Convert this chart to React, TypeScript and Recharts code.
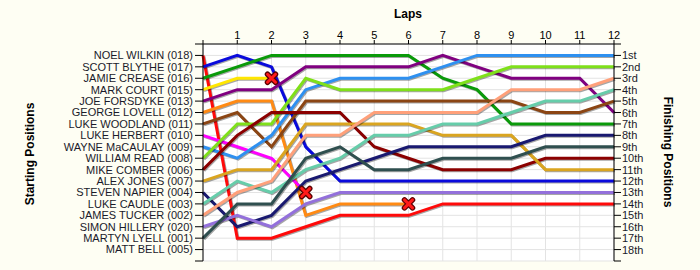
import { LineChart, Line, XAxis, YAxis, CartesianGrid } from "recharts";

const laps = [0, 1, 2, 3, 4, 5, 6, 7, 8, 9, 10, 11, 12];

const startLabels = [
  "NOEL WILKIN (018)",
  "SCOTT BLYTHE (017)",
  "JAMIE CREASE (016)",
  "MARK COURT (015)",
  "JOE FORSDYKE (013)",
  "GEORGE LOVELL (012)",
  "LUKE WOODLAND (011)",
  "LUKE HERBERT (010)",
  "WAYNE MaCAULAY (009)",
  "WILLIAM READ (008)",
  "MIKE COMBER (006)",
  "ALEX JONES (007)",
  "STEVEN NAPIER (004)",
  "LUKE CAUDLE (003)",
  "JAMES TUCKER (002)",
  "SIMON HILLERY (020)",
  "MARTYN LYELL (001)",
  "MATT BELL (005)",
];

const finishLabels = [
  "1st", "2nd", "3rd", "4th", "5th", "6th", "7th", "8th", "9th",
  "10th", "11th", "12th", "13th", "14th", "15th", "16th", "17th", "18th",
];

// position at each lap (lap 0 = grid); a short list means the driver retired
const noelWilkin = [1, 17, 17, 16, 15, 15, 15, 14, 14, 14, 14, 14, 14];
const scottBlythe = [2, 1, 2, 9, 12, 12, 12, 12, 12, 12, 12, 12, 12];
const jamieCrease = [3, 2, 1, 1, 1, 1, 1, 3, 4, 7, 7, 7, 7];
const markCourt = [4, 3, 3];
const joeForsdyke = [5, 4, 4, 2, 2, 2, 2, 1, 2, 3, 3, 3, 6];
const georgeLovell = [6, 5, 5, 15, 14, 14, 14];
const lukeWoodland = [7, 6, 9, 5, 5, 5, 5, 5, 5, 5, 6, 6, 5];
const lukeHerbert = [8, 9, 10, 13];
const wayneMacaulay = [9, 10, 8, 4, 3, 3, 3, 2, 1, 1, 1, 1, 1];
const williamRead = [10, 7, 7, 3, 4, 4, 4, 4, 3, 2, 2, 2, 2];
const mikeComber = [11, 8, 6, 6, 6, 9, 10, 11, 11, 11, 10, 10, 10];
const alexJones = [12, 11, 11, 7, 7, 7, 7, 8, 8, 8, 11, 11, 11];
const stevenNapier = [13, 16, 15, 12, 11, 10, 9, 9, 9, 9, 8, 8, 8];
const lukeCaudle = [14, 12, 13, 11, 10, 8, 8, 7, 7, 6, 5, 5, 4];
const jamesTucker = [15, 13, 12, 8, 8, 6, 6, 6, 6, 4, 4, 4, 3];
const simonHillery = [16, 15, 16, 14, 13, 13, 13, 13, 13, 13, 13, 13, 13];
const martynLyell = [17, 14, 14, 10, 9, 11, 11, 10, 10, 10, 9, 9, 9];

const series = [
  noelWilkin, scottBlythe, jamieCrease, markCourt, joeForsdyke, georgeLovell,
  lukeWoodland, lukeHerbert, wayneMacaulay, williamRead, mikeComber, alexJones,
  stevenNapier, lukeCaudle, jamesTucker, simonHillery, martynLyell,
];

const colors = [
  "#FF0A0A", "#0A0ADC", "#0A9A0A", "#FFE600", "#800080", "#FF8A14",
  "#8B4513", "#FF00FF", "#2E90F0", "#7FE01A", "#8B0000", "#DAA520",
  "#191970", "#66CDAA", "#FFA07A", "#9370DB", "#2F4F4F",
];

const data = laps.map((lap, i) => {
  const row: Record<string, number | null> = { lap };
  series.forEach((s, k) => {
    row["d" + k] = i < s.length ? s[i] : null;
  });
  return row;
});

const font = "'Liberation Sans', Arial, sans-serif";
const yTicks = Array.from({ length: 20 }, (_, i) => i);

function RetireDot(props: any, len: number) {
  const { cx, cy, index } = props;
  if (len === laps.length || index !== len - 1 || cx == null) {
    return <g key={"n" + index} />;
  }
  const r = 4;
  const d = `M${cx - r},${cy - r}L${cx + r},${cy + r}M${cx + r},${cy - r}L${cx - r},${cy + r}`;
  return (
    <g key={"x" + index}>
      <path d={d} stroke="#5a0000" strokeWidth={5.5} strokeLinecap="round" />
      <path d={d} stroke="#FF1A1A" strokeWidth={3} strokeLinecap="round" />
    </g>
  );
}

function RightTick(props: any) {
  const { x, y, payload } = props;
  const v = payload.value;
  if (v < 1 || v > 18) return <g />;
  return (
    <text x={x} y={y} dy={4} textAnchor="start" fontSize={11} fontFamily={font} fill="#1a1a2a">
      {finishLabels[v - 1]}
    </text>
  );
}

export default function App() {
  return (
    <div style={{ width: 700, height: 270, background: "#FEFEF3", position: "relative" }}>
      <style>{`body{margin:0} .lap-line .recharts-line-curve{filter:drop-shadow(1px 1.5px 0.4px rgba(0,0,0,0.35));}`}</style>
      <LineChart width={700} height={270} data={data} margin={{ top: 0, right: 0, left: 0, bottom: 9 }}>
        <CartesianGrid stroke="#E3E3E3" fill="#FFFFFF" yAxisId="l" />
        <XAxis
          dataKey="lap"
          type="number"
          orientation="top"
          domain={[0, 12]}
          ticks={laps}
          interval={0}
          height={44}
          stroke="#000"
          tickSize={4}
          tickMargin={1}
          tickFormatter={(v) => (v === 0 ? "" : String(v))}
          tick={{ fontSize: 11, fill: "#000", fontFamily: font }}
        />
        <YAxis
          yAxisId="l"
          type="number"
          domain={[0, 19]}
          reversed
          ticks={yTicks}
          interval={0}
          width={203}
          stroke="#000"
          tickSize={8}
          tickMargin={2}
          tickFormatter={(v) => (v >= 1 && v <= 18 ? startLabels[v - 1] : "")}
          tick={{ fontSize: 11, fill: "#1a1a2a", fontFamily: font }}
        />
        <YAxis
          yAxisId="r"
          orientation="right"
          type="number"
          domain={[0, 19]}
          reversed
          ticks={yTicks}
          interval={0}
          width={86}
          stroke="#000"
          tickSize={7}
          tickMargin={1}
          tick={RightTick}
        />
        <Line
          yAxisId="r"
          dataKey="d0"
          stroke="none"
          dot={false}
          activeDot={false}
          isAnimationActive={false}
        />
        {series.map((s, k) => (
          <Line
            key={k}
            className="lap-line"
            yAxisId="l"
            type="linear"
            dataKey={"d" + k}
            stroke={colors[k]}
            strokeWidth={3}
            dot={(p: any) => RetireDot(p, s.length)}
            activeDot={false}
            isAnimationActive={false}
          />
        ))}
      </LineChart>
      <svg width={700} height={270} style={{ position: "absolute", left: 0, top: 0, pointerEvents: "none" }}>
        <text x={408} y={18} textAnchor="middle" fontFamily={font} fontWeight="bold" fontSize={12} fill="#000">Laps</text>
        <text x={0} y={0} transform="translate(34,154) rotate(-90)" textAnchor="middle" fontFamily={font} fontWeight="bold" fontSize={12} fill="#000">Starting Positions</text>
        <text x={0} y={0} transform="translate(664,152) rotate(90)" textAnchor="middle" fontFamily={font} fontWeight="bold" fontSize={12} fill="#000">Finishing Positions</text>
      </svg>
    </div>
  );
}
